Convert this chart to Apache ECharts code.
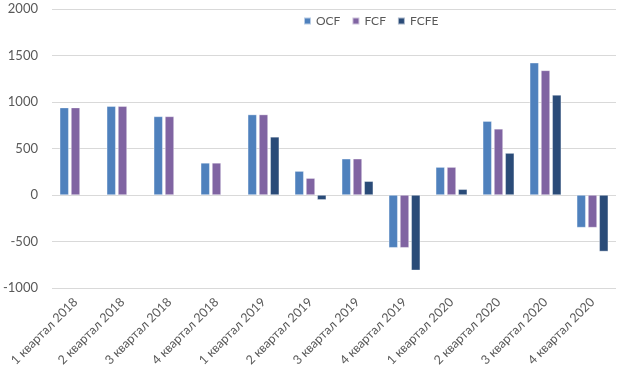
<!DOCTYPE html>
<html><head><meta charset="utf-8">
<script src="https://cdn.jsdelivr.net/npm/echarts@6/dist/echarts.min.js"></script>
<style>html,body{margin:0;padding:0;background:#fff}#c{width:624px;height:384px}</style>
</head><body><div id="c"></div>
<script>
const categories = ['1 квартал 2018','2 квартал 2018','3 квартал 2018','4 квартал 2018','1 квартал 2019','2 квартал 2019','3 квартал 2019','4 квартал 2019','1 квартал 2020','2 квартал 2020','3 квартал 2020','4 квартал 2020'];
const ocf  = [940, 955, 845, 345, 865, 257, 390, -567, 300, 794, 1422, -350];
const fcf  = [940, 955, 845, 345, 865, 181, 390, -567, 300, 711, 1340, -350];
const fcfe = [null, null, null, null, 625, -52, 148, -810, 62, 451, 1076, -607];
const seriesNames = ['OCF','FCF','FCFE'];
const colors = ['#4F81BD','#8064A2','#2A4B78'];
const font = 'Lato, "Noto Sans", sans-serif';
const chart = echarts.init(document.getElementById('c'));
const mk = (name, data, i) => ({
  name, type: 'bar', data, barWidth: 9, barGap: '25%',
  itemStyle: {color: colors[i], borderColor: 'rgba(255,255,255,0.6)', borderWidth: 0.6}
});
chart.setOption({
  animation: false,
  textStyle: {fontFamily: font},
  legend: {
    top: 15, left: 303, padding: 0, itemWidth: 7, itemHeight: 7, itemGap: 11,
    textStyle: {color: '#595959', fontSize: 12, fontFamily: font},
    data: seriesNames.map(n => ({name: n, icon: 'rect'}))
  },
  grid: {left: 49, right: 8, top: 9, bottom: 96},
  xAxis: {
    type: 'category', data: categories,
    axisLine: {show: false}, axisTick: {show: false},
    axisLabel: {rotate: 45, interval: 0, color: '#595959', fontSize: 12.5, fontFamily: font, margin: 12}
  },
  yAxis: {
    type: 'value', min: -1000, max: 2000, interval: 500,
    axisLine: {show: false}, axisTick: {show: false},
    axisLabel: {color: '#595959', fontSize: 13, fontFamily: font, margin: 14, formatter: v => String(v)},
    splitLine: {lineStyle: {color: '#D9D9D9', width: 1}}
  },
  series: [mk('OCF', ocf, 0), mk('FCF', fcf, 1), mk('FCFE', fcfe, 2)]
});
</script></body></html>
